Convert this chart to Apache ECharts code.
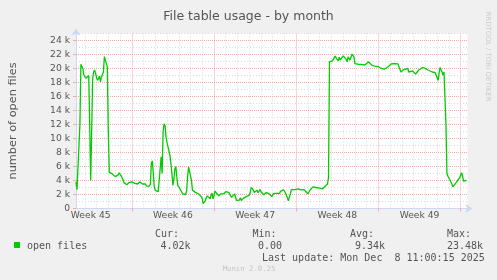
<!DOCTYPE html>
<html>
<head>
<meta charset="utf-8">
<script src="https://cdn.jsdelivr.net/npm/echarts@6/dist/echarts.min.js"></script>
<style>
html,body{margin:0;padding:0;background:#f0f0f0;}
#c{width:497px;height:280px;}
</style>
</head>
<body>
<div id="c"></div>
<script>
// x = 2-hour slot index counted from Monday 3 Nov 2025 00:00
const slots = [
27,28,29,30,31,32,33,34,35,36,37,38,39,40,41,42,43,44,45,46,47,48,49,50,51,52,53,54,55,56,57,58,59,60,
61,62,63,64,65,66,67,68,69,70,71,72,73,74,75,76,77,78,79,80,81,82,83,84,85,86,87,88,89,90,91,92,93,94,95,96,97,98,99,100,
101,102,103,104,105,106,107,108,109,110,111,112,113,114,115,116,117,118,119,120,121,122,123,124,125,126,127,128,129,130,
131,132,133,134,135,136,137,138,139,140,141,142,143,144,145,146,147,148,149,150,151,152,153,154,155,156,157,158,159,160,
161,162,163,164,165,166,167,168,169,170,171,172,173,174,175,176,177,178,179,180,181,182,183,
184,185,186,187,188,189,190,191,193,194,195,196,198,199,201,202,204,205,206,207,208,209,211,212,213,215,216,217,219,220,221,
223,224,225,227,228,229,231,232,233,235,236,237,239,240,241,243,244,245,246,247,249,251,252,254,256,257,259,260,262,264,
266,267,269,271,272,274,276,277,279,281,282,284,285,
286,288,289,291,292,293,295,296,297,299,300,301,303,304,305,307,308,309,311,312,314,316,317,319,321,322,324,326,327,329,
331,332,334,336,337,339,341,342,344,346,347,349,351,352,354,356,357,359,361,362,364,366,367,369,371,372,374,376,377,379,
381,382,384,386,387,389,391,392,394,396,397,398,399,401,402,403,404,405,406,407,409,411,412,413,414,416,417,419,421,422,
423,424,425,426
];
const openFiles = [
3800,2700,2500,2600,12000,20600,20800,20000,19100,18900,18600,18600,18500,19000,12000,4000,11000,18500,19500,19800,19300,18700,18300,18400,18900,18100,18800,18600,19500,21700,21900,21800,20200,11000,
5200,5100,5000,4950,4900,4700,4550,4650,4450,4800,5100,4900,4700,4550,4150,3700,3600,3500,3400,3600,3700,3500,3600,3800,4050,3800,3600,3350,3600,3500,3700,3800,3950,3700,3500,3600,3350,3500,3200,3100,
3350,3200,3500,6500,6800,6600,3100,2600,2450,2450,2400,2350,2400,7400,5000,11000,12100,11800,10200,9400,8800,8200,7600,6400,5000,3300,4200,5600,6000,4500,
3300,3100,2900,2600,2400,2100,2000,1900,2000,2500,4500,5950,6050,6100,4000,2600,2700,2500,2300,2200,2200,2100,1900,1900,1700,1400,700,650,1100,1500,
1800,2000,1700,1400,1900,2200,1400,1900,2500,2300,2100,1900,1800,2000,2100,2200,2000,2100,2200,2400,2500,2200,2300,
2250,2050,1600,1400,1750,2100,1650,1150,1400,1200,1550,1150,1450,1350,1700,1500,1900,2250,3000,2750,2700,2300,2450,2600,2250,2700,2400,2150,1950,2150,2250,
2450,2150,1950,1700,1950,2150,1950,2150,2400,2150,2450,2250,2650,2400,2250,2400,1100,1650,2050,2700,2800,2700,2650,2800,2700,2650,2850,2700,2400,2100,
2600,2850,3100,3330,3000,3200,2900,3100,2800,3100,2900,3500,4500,
20950,20950,21100,21200,21800,21450,21100,21600,21200,21300,21800,21900,21300,20950,21650,21200,21650,22050,21650,20700,20700,20600,20800,20600,20800,20500,20600,20950,20700,20500,
20250,20350,20150,20250,20150,20000,20000,19900,19700,20250,20500,20650,20500,20700,20500,20650,20250,19500,19500,19850,19750,20000,19500,19300,19650,19500,19200,19400,19750,19850,
20150,20000,20000,19750,19750,19650,19500,19650,19400,19300,18300,19400,20150,19500,19050,19500,19400,12000,5000,4600,4100,3500,3100,3000,3300,3800,4000,4400,5100,4600,
3900,3700,3900,4020
];
const weekNames = ['Week 45','Week 46','Week 47','Week 48','Week 49'];
const weekLabelSlots = [42,126,210,294,378];
const weekStartSlots = [84,168,252,336,420];
const yTicks = [0,2000,4000,6000,8000,10000,12000,14000,16000,18000,20000,22000,24000];
const legendHeads = ['Cur:','Min:','Avg:','Max:'];
const legendValues = ['4.02k','0.00','9.34k','23.48k'];
const seriesName = 'open files';
const titleText = 'File table usage - by month';
const yName = 'number of open files';
const lastUpdate = 'Last update: Mon Dec  8 11:00:15 2025';
const footer = 'Munin 2.0.25';
const sideText = 'RRDTOOL / TOBI OETIKER';

const X_MIN = 27, X_MAX = 427, Y_MAX = 25000;
const RED = '#f4aaaa', GREY = '#d9d9d9', FONT = '#555555';

const points = slots.map((s, i) => [s, openFiles[i]]);

const gridLines = [];
for (let s = 36; s < X_MAX; s += 12) {
  const major = weekStartSlots.indexOf(s) >= 0;
  gridLines.push({xAxis: s, lineStyle: {color: major ? RED : GREY, type: major ? [1,1] : [1,2], width: 1}});
}
for (let v = 1000; v <= Y_MAX; v += 1000) {
  const major = v % 2000 === 0;
  gridLines.push({yAxis: v, lineStyle: {color: major ? RED : GREY, type: major ? [1,1] : [1,2], width: 1}});
}

const chart = echarts.init(document.getElementById('c'), null, {renderer: 'canvas'});
const legendX = [155, 252.5, 350, 447];
const valueX = [160.5, 258, 355, 447];
const graphics = [
  {type: 'rect', shape: {x: 14, y: 242, width: 6, height: 6}, style: {fill: '#00cc00'}},
  {type: 'text', x: 27, y: 246, style: {text: seriesName, font: '10px "DejaVu Sans Mono"', fill: FONT, textVerticalAlign: 'middle'}},
  {type: 'text', x: 262, y: 258, style: {text: lastUpdate, font: '10px "DejaVu Sans Mono"', fill: FONT, textVerticalAlign: 'middle'}},
  {type: 'text', x: 249, y: 269.5, style: {text: footer, font: '7.3px "DejaVu Sans Mono"', fill: '#c4c4c4', textAlign: 'center', textVerticalAlign: 'middle'}},
  {type: 'text', x: 488, y: 56.5, rotation: -Math.PI / 2, style: {text: sideText, font: '7px "DejaVu Sans"', fill: '#cccccc', textAlign: 'center', textVerticalAlign: 'middle'}}
];
legendHeads.forEach((t, i) => {
  graphics.push({type: 'text', x: legendX[i], y: 234, style: {text: t, font: '10px "DejaVu Sans Mono"', fill: FONT, textVerticalAlign: 'middle'}});
  graphics.push({type: 'text', x: valueX[i], y: 246, style: {text: legendValues[i], font: '10px "DejaVu Sans Mono"', fill: FONT, textVerticalAlign: 'middle'}});
});

chart.setOption({
  animation: false,
  backgroundColor: '#f0f0f0',
  title: {
    text: titleText, left: 'center', top: 5,
    textStyle: {fontFamily: 'DejaVu Sans', fontSize: 12.5, fontWeight: 'normal', color: FONT}
  },
  grid: {left: 67.5, right: 29.5, top: 33.5, bottom: 71.5, show: true, backgroundColor: '#ffffff', borderWidth: 0, containLabel: false},
  xAxis: {
    type: 'value', min: X_MIN, max: X_MAX,
    axisLine: {show: true, lineStyle: {color: '#cfd6f8', width: 1}, symbol: ['none', 'arrow'], symbolSize: [7, 7], symbolOffset: [0, 5]},
    axisTick: {show: true, customValues: weekStartSlots, length: 3, inside: false, lineStyle: {color: RED}},
    axisLabel: {
      customValues: weekLabelSlots, margin: 3,
      formatter: v => weekNames[weekLabelSlots.indexOf(v)] || '',
      fontFamily: 'DejaVu Sans', fontSize: 9.2, color: FONT
    },
    splitLine: {show: false}
  },
  yAxis: {
    type: 'value', min: 0, max: Y_MAX, interval: 2000,
    name: yName, nameLocation: 'middle', nameGap: 57, nameRotate: 90,
    nameTextStyle: {fontFamily: 'DejaVu Sans', fontSize: 11.3, color: FONT},
    axisLine: {show: true, lineStyle: {color: '#cfd6f8', width: 1}, symbol: ['none', 'arrow'], symbolSize: [7, 7], symbolOffset: [0, 5]},
    axisTick: {show: true, customValues: yTicks, length: 3, lineStyle: {color: RED}},
    axisLabel: {
      margin: 6, fontFamily: 'DejaVu Sans', fontSize: 9.2, color: FONT,
      formatter: v => (v % 2000 !== 0 ? '' : (v === 0 ? '0' : (v / 1000) + ' k'))
    },
    splitLine: {show: false}
  },
  series: [
    {
      type: 'line', data: [[X_MIN, 0]], symbol: 'none', z: 1,
      lineStyle: {opacity: 0},
      markLine: {silent: true, symbol: ['none', 'none'], label: {show: false}, animation: false, data: gridLines}
    },
    {
      name: seriesName, type: 'line', data: points, symbol: 'none', showSymbol: false, z: 5,
      lineStyle: {color: '#00cc00', width: 1.3}
    }
  ],
  graphic: graphics
});
</script>
</body>
</html>
